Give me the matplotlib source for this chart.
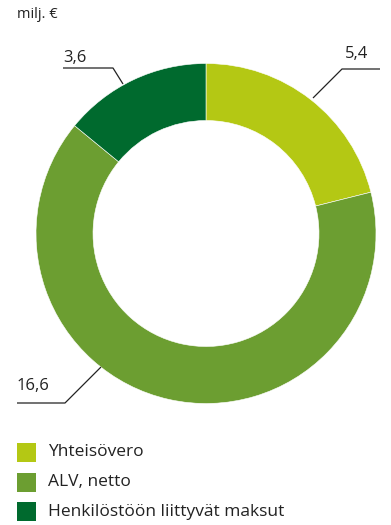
import matplotlib.pyplot as plt
from matplotlib.patches import Rectangle

plt.rcParams['font.family'] = ['Open Sans', 'DejaVu Sans']

categories = ["Yhteisövero", "ALV, netto", "Henkilöstöön liittyvät maksut"]
values = [5.4, 16.6, 3.6]
value_labels = ["5,4", "16,6", "3,6"]
colors = ["#b4c814", "#6c9e31", "#006a2e"]

W, H = 391, 525
fig = plt.figure(figsize=(W / 100, H / 100), dpi=100)

# axes measured in pixels so the donut sits where it should
cx, cy, half = 206, 291.5, 200
ax = fig.add_axes([(cx - half) / W, (cy - half) / H, 2 * half / W, 2 * half / H])

outer = 170
ring = 57
wedges, _ = ax.pie(values, colors=colors, startangle=90, counterclock=False,
                   radius=outer, center=(0, 0), frame=True,
                   wedgeprops=dict(width=ring, edgecolor="white", linewidth=0.4))
ax.set_xlim(-half, half)
ax.set_ylim(-half, half)
ax.set_aspect("equal")
ax.axis("off")

# leader lines: (point on ring, elbow, end), label position
leaders = {
    "5,4": ([(107, 135.5), (136, 164.5), (174, 164.5)], (151, 179)),
    "16,6": ([(-105, -133.5), (-141, -169.5), (-189, -169.5)], (-173, -152)),
    "3,6": ([(-83, 149.5), (-93, 165.5), (-143, 165.5)], (-131, 176)),
}
for lab in value_labels:
    pts, (tx, ty) = leaders[lab]
    xs, ys = zip(*pts)
    ax.plot(xs, ys, color="#222222", lw=0.9, solid_capstyle="butt", clip_on=False)
    ax.text(tx, ty, lab, ha="center", va="center", fontsize=12, color="#222222")

fig.text(17 / W, 1 - 14 / H, "milj. €", ha="left", va="center", fontsize=10.5, color="#222222")

# legend
y0, step, sq = 452.5, 29.5, 19
for i, (name, c) in enumerate(zip(categories, colors)):
    yc = y0 + i * step
    fig.patches.append(Rectangle((17 / W, 1 - (yc + sq / 2) / H), sq / W, sq / H,
                                 transform=fig.transFigure, facecolor=c, edgecolor="none"))
    fig.text(48 / W, 1 - yc / H, name, ha="left", va="center", fontsize=12.5, color="#222222")

fig.savefig("out.png", dpi=100)
